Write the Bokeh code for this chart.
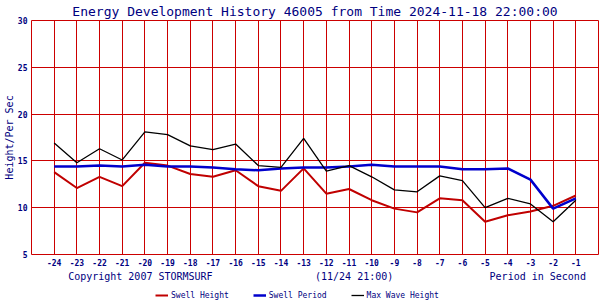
from bokeh.plotting import figure
from bokeh.layouts import column
from bokeh.models import FixedTicker, Legend, LegendItem, Range1d
from bokeh.embed import file_html
from bokeh.resources import INLINE

# ---- data ----
hours = [-24, -23, -22, -21, -20, -19, -18, -17, -16, -15, -14, -13,
         -12, -11, -10, -9, -8, -7, -6, -5, -4, -3, -2, -1]
swell_height = [13.8, 12.1, 13.3, 12.3, 14.8, 14.5, 13.6, 13.3, 14.0, 12.3, 11.8, 14.2,
                11.5, 12.0, 10.8, 9.9, 9.5, 11.0, 10.8, 8.5, 9.2, 9.6, 10.2, 11.3]
swell_period = [14.4, 14.4, 14.5, 14.4, 14.6, 14.4, 14.4, 14.3, 14.1, 14.0, 14.2, 14.3,
                14.3, 14.4, 14.6, 14.4, 14.4, 14.4, 14.1, 14.1, 14.2, 13.0, 9.9, 11.0]
max_wave = [16.9, 14.8, 16.3, 15.1, 18.1, 17.8, 16.6, 16.2, 16.8, 14.5, 14.3, 17.4,
            13.9, 14.5, 13.3, 11.9, 11.7, 13.4, 12.9, 10.0, 11.0, 10.4, 8.5, 10.8]
y_ticks = [5, 10, 15, 20, 25, 30]
series_names = ["Swell Height", "Swell Period", "Max Wave Height"]
series_colors = ["#c00000", "#0000cc", "black"]
series_widths = [2, 2.5, 1.3]
title_text = "Energy Development History 46005 from Time 2024-11-18 22:00:00"
y_label = "Height/Per Sec"
footer_texts = ["Copyright 2007 STORMSURF", "(11/24 21:00)", "Period in Second"]

NAVY = "#000080"
GRID_RED = "#cc0000"
MONO = "DejaVu Sans Mono"
NB = "\u00a0"

p = figure(width=600, height=284, output_backend="svg", toolbar_location=None,
           x_range=Range1d(-25, 0), y_range=Range1d(5, 30),
           min_border_left=31, min_border_right=2, min_border_top=20,
           min_border_bottom=30)
p.background_fill_color = "white"
p.border_fill_color = "white"
p.outline_line_color = GRID_RED
p.outline_line_width = 1

# title
p.title.text = title_text
p.title.align = "center"
p.title.text_font = MONO
p.title.text_font_size = "13px"
p.title.text_font_style = "normal"
p.title.text_color = NAVY
p.title.standoff = 3

# axes
p.xaxis.ticker = FixedTicker(ticks=hours)
p.xaxis.major_label_overrides = {h: str(h) for h in hours}
p.yaxis.ticker = FixedTicker(ticks=y_ticks)
for ax in (p.xaxis[0], p.yaxis[0]):
    ax.axis_line_color = None
    ax.major_tick_line_color = None
    ax.minor_tick_line_color = None
    ax.major_tick_out = 0
    ax.major_tick_in = 0
    ax.minor_tick_out = 0
    ax.minor_tick_in = 0
    ax.major_label_text_font = MONO
    ax.major_label_text_font_size = "8px"
    ax.major_label_text_font_style = "bold"
    ax.major_label_text_color = NAVY
p.xaxis.major_label_standoff = 4
p.yaxis.major_label_standoff = 4
p.yaxis.axis_label = y_label
p.yaxis.axis_label_text_font = MONO
p.yaxis.axis_label_text_font_size = "10px"
p.yaxis.axis_label_text_font_style = "normal"
p.yaxis.axis_label_text_color = NAVY
p.yaxis.axis_label_standoff = 0

# footer row as the x-axis label (monospace, spaced with no-break spaces)
p.xaxis.axis_label = (NB * 4 + footer_texts[0] + NB * 17 + footer_texts[1]
                      + NB * 16 + footer_texts[2])
p.xaxis.axis_label_text_font = MONO
p.xaxis.axis_label_text_font_size = "10px"
p.xaxis.axis_label_text_font_style = "normal"
p.xaxis.axis_label_text_color = NAVY
p.xaxis.axis_label_standoff = 2

# grid
p.xgrid.grid_line_color = GRID_RED
p.ygrid.grid_line_color = GRID_RED
p.xgrid.grid_line_alpha = 1
p.ygrid.grid_line_alpha = 1

# series
for vals, col, lw in zip([swell_height, swell_period, max_wave],
                         series_colors, series_widths):
    p.line(hours, vals, line_color=col, line_width=lw)

# legend strip below the chart (swatch renderers sit outside the strip's view)
p2 = figure(width=600, height=16, output_backend="svg", toolbar_location=None,
            x_range=Range1d(0, 1), y_range=Range1d(0, 1), min_border=0)
p2.axis.visible = False
p2.grid.visible = False
p2.outline_line_color = None
p2.background_fill_color = "white"
p2.border_fill_color = "white"
items = []
for name, col, lw in zip(series_names, series_colors, series_widths):
    r = p2.line(x=[5, 6], y=[5, 6], line_color=col, line_width=lw)
    items.append(LegendItem(label=name, renderers=[r]))
legend = Legend(items=items, orientation="horizontal", location=(124, 0))
legend.label_text_font = MONO
legend.label_text_font_size = "8px"
legend.label_text_color = NAVY
legend.glyph_width = 13
legend.glyph_height = 10
legend.label_height = 10
legend.label_standoff = 3
legend.spacing = 24
legend.padding = 0
legend.margin = 0
legend.border_line_color = None
legend.background_fill_alpha = 0
p2.add_layout(legend, "center")

layout = column(p, p2, spacing=0)
open("out.html", "w").write(file_html(layout, INLINE))
